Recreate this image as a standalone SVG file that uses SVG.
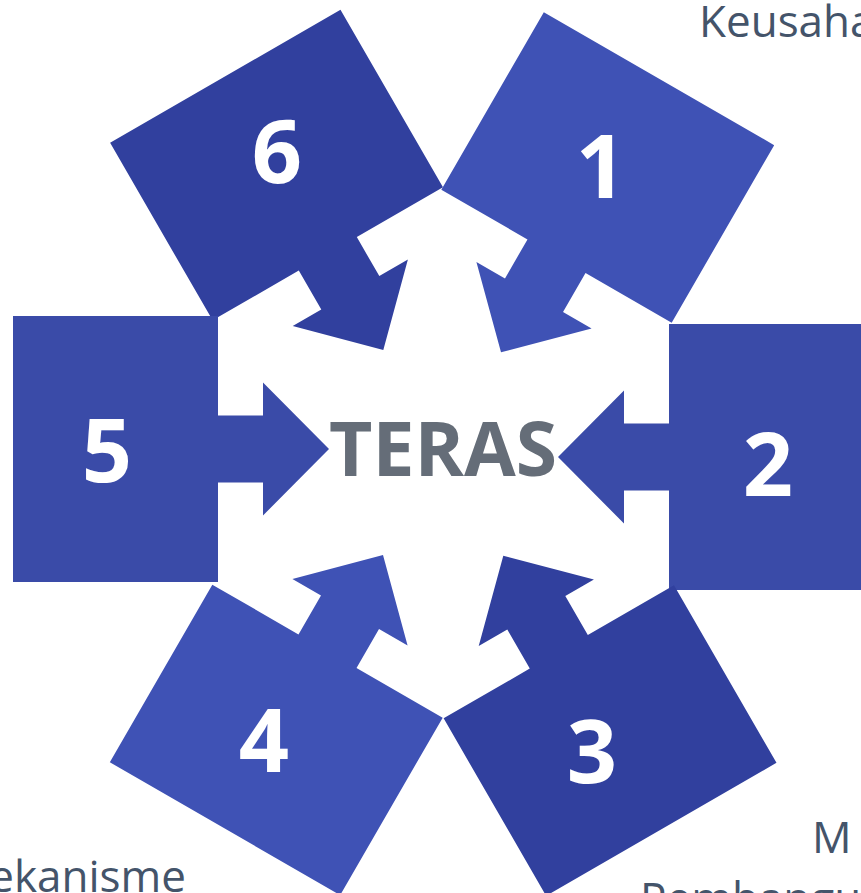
<svg xmlns="http://www.w3.org/2000/svg" width="861" height="893" viewBox="0 0 861 893">
<style>
.num{font-family:"Open Sans","Liberation Sans",sans-serif;font-weight:700;font-size:88px;fill:#ffffff;text-anchor:middle}
.core{font-family:"Open Sans","Liberation Sans",sans-serif;font-weight:700;font-size:75px;fill:#656D78;text-anchor:middle}
.lbl{font-family:"Open Sans","Liberation Sans",sans-serif;font-size:44px;fill:#44546A}
.c1{fill:#3F52B5}.c2{fill:#3A4BA8}.c3{fill:#31409E}
</style>
<defs>
<polygon id="arrowbox" points="0,0 -66,-66.5 -66,-33.5 -111,-33.5 -111,-133 -316,-133 -316,133 -111,133 -111,33.5 -66,33.5 -66,66.5"/>
</defs>
<rect width="861" height="893" fill="#ffffff"/>
<g id="connectors"></g>
<g id="node-6"><use href="#arrowbox" class="c3" transform="translate(383.3,350) rotate(60)"/><text class="num" x="277" y="183">6</text></g>
<g id="node-1"><use href="#arrowbox" class="c1" transform="translate(501,352.3) rotate(120)"/><text class="num" x="601" y="198">1</text></g>
<g id="node-2"><use href="#arrowbox" class="c2" transform="translate(558,457) rotate(180)"/><text class="num" x="768" y="496">2</text></g>
<g id="node-3"><use href="#arrowbox" class="c3" transform="translate(503.3,555.7) rotate(-120)"/><text class="num" x="592" y="783">3</text></g>
<g id="node-4"><use href="#arrowbox" class="c1" transform="translate(383,555) rotate(-60)"/><text class="num" x="264" y="772">4</text></g>
<g id="node-5"><use href="#arrowbox" class="c2" transform="translate(329,449)"/><text class="num" x="107" y="482">5</text></g>
<g id="core"><text class="core" x="443" y="476">TERAS</text></g>
<g id="labels">
<text class="lbl" x="699" y="37">Keusaha</text>
<text class="lbl" x="186" y="892" text-anchor="end">ekanisme</text>
<text class="lbl" x="812" y="853">M</text>
<text class="lbl" x="640" y="914">Pembangu</text>
</g>
</svg>
